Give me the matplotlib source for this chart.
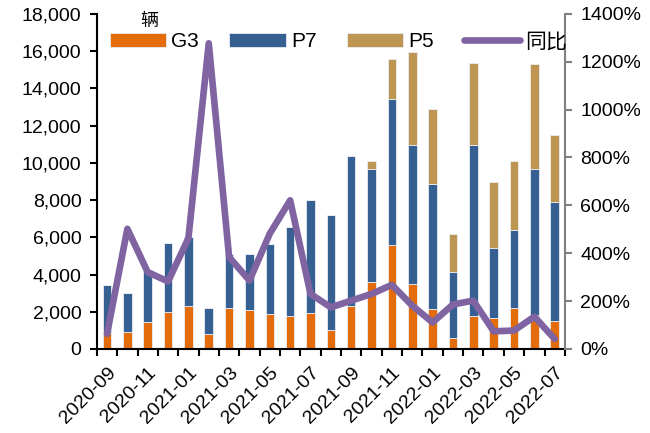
import numpy as np
import matplotlib.pyplot as plt
from matplotlib.ticker import FuncFormatter, MultipleLocator

plt.rcParams['font.family'] = ['Liberation Sans', 'Noto Sans CJK SC', 'DejaVu Sans']

months = ['2020-09', '2020-10', '2020-11', '2020-12', '2021-01', '2021-02',
          '2021-03', '2021-04', '2021-05', '2021-06', '2021-07', '2021-08',
          '2021-09', '2021-10', '2021-11', '2021-12', '2022-01', '2022-02',
          '2022-03', '2022-04', '2022-05', '2022-06', '2022-07']
# totals, split into the three models
g3 = [860, 920, 1470, 2010, 2290, 790, 2220, 2120, 1890, 1790, 1960, 1020,
      2300, 3620, 5600, 3500, 2150, 590, 1790, 1690, 2190, 1800, 1490]
p7 = [2590, 2080, 2750, 3660, 3700, 1400, 2860, 3000, 3760, 4740, 6060, 6160,
      8090, 6030, 7830, 7450, 6710, 3520, 9170, 3730, 4220, 7860, 6390]
p5 = [0, 0, 0, 0, 0, 0, 0, 0, 0, 0, 0, 0,
      0, 450, 2150, 5020, 4020, 2080, 4420, 3550, 3690, 5620, 3610]
yoy = [63, 502, 321, 282, 463, 1277, 384, 286, 482, 621, 230, 174,
       202, 230, 268, 181, 111, 186, 202, 74, 77, 135, 42]

c_g3, c_p7, c_p5, c_line = '#E46C0A', '#376092', '#BE9651', '#8064A2'

fig = plt.figure(figsize=(6.5, 4.33), dpi=100)
ax = fig.add_axes([0.149, 0.194, 0.72, 0.774])
ax2 = ax.twinx()

x = np.arange(len(months))
w = 0.42
g3 = np.array(g3)
p7 = np.array(p7)
p5 = np.array(p5)
ekw = dict(edgecolor='#e8edf3', linewidth=0.6)
b1 = ax.bar(x, g3, w, color=c_g3, label='G3', **ekw)
b2 = ax.bar(x, p7, w, bottom=g3, color=c_p7, label='P7', **ekw)
b3 = ax.bar(x, p5, w, bottom=g3 + p7, color=c_p5, label='P5', **ekw)
l1, = ax2.plot(x, yoy, color=c_line, lw=4.8, solid_capstyle='round',
               solid_joinstyle='round', label='同比')

ax.set_xlim(-0.5, len(months) - 0.5)
ax.set_ylim(0, 18000)
ax.yaxis.set_major_locator(MultipleLocator(2000))
ax.yaxis.set_major_formatter(FuncFormatter(lambda v, p: f'{int(v):,}'))
ax2.set_ylim(0, 1400)
ax2.yaxis.set_major_locator(MultipleLocator(200))
ax2.yaxis.set_major_formatter(FuncFormatter(lambda v, p: f'{int(v)}%'))

ax.set_xticks(x[::2])
ax.set_xticklabels(months[::2], rotation=45, ha='right', va='top',
                   rotation_mode='anchor', fontsize=14)
ax.set_xticks(np.arange(-0.5, len(months)), minor=True)
ax.tick_params(axis='x', which='major', length=0, pad=11)
ax.tick_params(axis='x', which='minor', length=5, width=1.5, direction='out')
ax.tick_params(axis='y', labelsize=14, length=5, width=1.5, direction='out', pad=6)
ax2.tick_params(axis='y', labelsize=14, length=5, width=1.5, direction='out',
                color='#808080', pad=6)

for a in (ax, ax2):
    a.spines['top'].set_visible(False)
ax.spines['right'].set_visible(False)
ax.spines['left'].set_linewidth(1.5)
ax.spines['bottom'].set_linewidth(1.5)
ax2.spines['left'].set_visible(False)
ax2.spines['bottom'].set_visible(False)
ax2.spines['right'].set_color('#808080')
ax2.spines['right'].set_linewidth(1.5)

ax2.legend([b1, b2, b3, l1], ['G3', 'P7', 'P5', '同比'], ncol=4,
           loc='upper left', bbox_to_anchor=(0.028, 0.945), frameon=False,
           fontsize=15, handlelength=2.7, handleheight=0.6,
           handletextpad=0.25, columnspacing=1.45, borderaxespad=0,
           borderpad=0)

ax.text(0.113, 0.98, '辆', transform=ax.transAxes, ha='center', va='center',
        fontsize=13, family=['Noto Sans CJK SC'])

fig.savefig('out.png', dpi=100)
